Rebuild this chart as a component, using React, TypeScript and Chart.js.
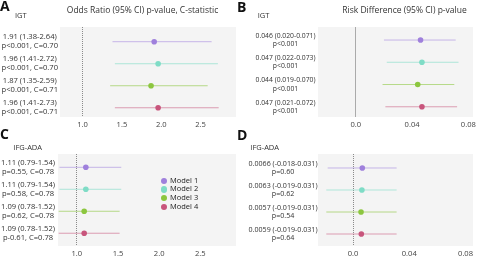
import React, { useEffect, useRef } from 'react';
import { Chart, registerables } from 'chart.js';
Chart.register(...registerables);

const models = ['Model 1', 'Model 2', 'Model 3', 'Model 4'];

const igtOrEst = [1.91, 1.96, 1.87, 1.96];
const igtOrLo = [1.38, 1.41, 1.35, 1.41];
const igtOrHi = [2.64, 2.72, 2.59, 2.73];
const igtOrStat = ['p<0.001, C=0.70', 'p<0.001, C=0.70', 'p<0.001, C=0.71', 'p<0.001, C=0.71'];

const igtRdEst = [0.046, 0.047, 0.044, 0.047];
const igtRdLo = [0.020, 0.022, 0.019, 0.021];
const igtRdHi = [0.071, 0.073, 0.070, 0.072];
const igtRdStat = ['p<0.001', 'p<0.001', 'p<0.001', 'p<0.001'];

const ifgOrEst = [1.11, 1.11, 1.09, 1.09];
const ifgOrLo = [0.79, 0.79, 0.78, 0.78];
const ifgOrHi = [1.54, 1.54, 1.52, 1.52];
const ifgOrStat = ['p=0.55, C=0.78', 'p=0.58, C=0.78', 'p=0.62, C=0.78', 'p-0.61, C=0.78'];

const ifgRdEst = [0.0066, 0.0063, 0.0057, 0.0059];
const ifgRdLo = [-0.018, -0.019, -0.019, -0.019];
const ifgRdHi = [0.031, 0.031, 0.031, 0.031];
const ifgRdStat = ['p=0.60', 'p=0.62', 'p=0.54', 'p=0.64'];

const orTicks = [1.0, 1.5, 2.0, 2.5];
const rdTicks = [0, 0.04, 0.08];

const pointColors = ['#9f80dc', '#7fdcc6', '#8cc63f', '#c8557c'];
const lineColors = ['rgba(159,128,220,0.55)', 'rgba(127,220,198,0.6)', 'rgba(140,198,63,0.6)', 'rgba(200,85,124,0.55)'];
const FONT = "'Open Sans', sans-serif";

const bgPlugin = {
  id: 'plotBg',
  beforeDraw(chart: any) {
    const { ctx, chartArea: a } = chart;
    ctx.save();
    ctx.fillStyle = '#f4f4f4';
    ctx.fillRect(a.left, a.top, a.right - a.left, a.bottom - a.top);
    ctx.restore();
  },
};

type PanelProps = {
  left: number; top: number; width: number; height: number;
  est: number[]; lo: number[]; hi: number[]; stat: string[];
  d1: number; d2: number;
  ticks: number[]; fmt: (v: number) => string; refValue: number;
  xmin: number; xmax: number; ymin: number; ymax: number;
  yWidth: number; padTop: number; padRight: number; dashed: boolean; labelPad: number; refColor: string;
  labelSize: number;
};

function Panel(p: PanelProps) {
  const ref = useRef<HTMLCanvasElement>(null);
  useEffect(() => {
    const labels = p.est.map((e, i) => [
      `${e.toFixed(p.d1)} (${p.lo[i].toFixed(p.d2)}-${p.hi[i].toFixed(p.d2)})`,
      p.stat[i],
    ]);
    const rows = p.est.map((_, i) => i + 1);
    const chart = new Chart(ref.current as HTMLCanvasElement, {
      type: 'scatter',
      data: {
        datasets: [
          {
            data: p.est.map((e, i) => ({ x: e, y: rows[i] })),
            pointBackgroundColor: pointColors,
            pointBorderWidth: 0,
            pointRadius: 2.8,
            showLine: false,
          } as any,
          ...p.est.map((_, i) => ({
            data: [{ x: p.lo[i], y: rows[i] }, { x: p.hi[i], y: rows[i] }],
            showLine: true,
            borderColor: lineColors[i],
            borderWidth: 1,
            pointRadius: 0,
          })),
        ],
      },
      options: {
        animation: false,
        responsive: false,
        maintainAspectRatio: false,
        events: [],
        layout: { padding: { top: p.padTop, right: p.padRight, left: 0, bottom: 0 } },
        plugins: { legend: { display: false }, tooltip: { enabled: false } },
        scales: {
          x: {
            type: 'linear',
            min: p.xmin,
            max: p.xmax,
            afterBuildTicks: (s: any) => { s.ticks = p.ticks.map((v) => ({ value: v })); },
            afterFit: (s: any) => { s.height = 13; s.paddingLeft = 0; s.paddingRight = 0; },
            grid: {
              drawTicks: false,
              color: (c: any) => (c.tick && Math.abs(c.tick.value - p.refValue) < 1e-9 ? p.refColor : 'rgba(0,0,0,0)'),
              lineWidth: 1,
            },
            border: { display: false, dash: p.dashed ? [1, 1] : [] },
            ticks: {
              font: { family: FONT, size: 7.6 },
              color: '#444',
              padding: 3,
              maxRotation: 0,
              autoSkip: false,
              callback: (v: any) => p.fmt(Number(v)),
            },
          },
          y: {
            type: 'linear',
            reverse: true,
            min: p.ymin,
            max: p.ymax,
            afterBuildTicks: (s: any) => { s.ticks = rows.map((v) => ({ value: v })); },
            afterFit: (s: any) => { s.width = p.yWidth; s.paddingTop = 0; s.paddingBottom = 0; },
            grid: { display: false, drawTicks: false },
            border: { display: false },
            ticks: {
              font: { family: FONT, size: p.labelSize, lineHeight: 1.2 },
              color: '#333',
              crossAlign: 'center',
              padding: p.labelPad,
              autoSkip: false,
              callback: (_v: any, i: number) => labels[i],
            },
          },
        },
      } as any,
      plugins: [bgPlugin],
    });
    return () => chart.destroy();
  }, []);
  return (
    <canvas
      ref={ref}
      width={p.width}
      height={p.height}
      style={{ position: 'absolute', left: p.left, top: p.top, width: p.width, height: p.height }}
    />
  );
}

function Txt(props: { x: number; y: number; size: number; children: any; center?: boolean; bold?: boolean; color?: string }) {
  return (
    <div
      style={{
        position: 'absolute',
        left: props.x,
        top: props.y,
        fontFamily: FONT,
        fontSize: props.size,
        lineHeight: '1',
        fontWeight: props.bold ? 700 : 400,
        color: props.color || '#333',
        whiteSpace: 'nowrap',
        transform: props.center ? 'translateX(-50%)' : undefined,
      }}
    >
      {props.children}
    </div>
  );
}

const orFmt = (v: number) => v.toFixed(1);
const rdFmt = (v: number) => (v === 0 ? '0.0' : v.toFixed(2));

export default function App() {
  const legendRows = [181, 189.6, 198.2, 206.8];
  return (
    <div style={{ position: 'absolute', left: 0, top: 0, width: 477, height: 259, background: '#fff', overflow: 'hidden' }}>
      <Panel left={0} top={0} width={240} height={130}
        est={igtOrEst} lo={igtOrLo} hi={igtOrHi} stat={igtOrStat} d1={2} d2={2}
        ticks={orTicks} fmt={orFmt} refValue={1}
        xmin={0.7125} xmax={2.95} ymin={0.332} ymax={4.42}
        yWidth={60} padTop={27} padRight={1} dashed={true} labelPad={2} refColor="#8a8a8a" labelSize={7.6} />
      <Panel left={240} top={0} width={237} height={130}
        est={igtRdEst} lo={igtRdLo} hi={igtRdHi} stat={igtRdStat} d1={3} d2={3}
        ticks={rdTicks} fmt={rdFmt} refValue={0}
        xmin={-0.0269} xmax={0.0833} ymin={0.414} ymax={4.46}
        yWidth={78} padTop={27} padRight={2} dashed={false} labelPad={2.5} refColor="#aaaaaa" labelSize={6.8} />
      <Panel left={0} top={130} width={240} height={129}
        est={ifgOrEst} lo={ifgOrLo} hi={ifgOrHi} stat={ifgOrStat} d1={2} d2={2}
        ticks={orTicks} fmt={orFmt} refValue={1}
        xmin={0.772} xmax={2.933} ymin={0.395} ymax={4.58}
        yWidth={58} padTop={24} padRight={2} dashed={true} labelPad={3} refColor="#8a8a8a" labelSize={7.6} />
      <Panel left={240} top={130} width={237} height={129}
        est={ifgRdEst} lo={ifgRdLo} hi={ifgRdHi} stat={ifgRdStat} d1={4} d2={3}
        ticks={rdTicks} fmt={rdFmt} refValue={0}
        xmin={-0.0249} xmax={0.0853} ymin={0.364} ymax={4.545}
        yWidth={78} padTop={24} padRight={2} dashed={true} labelPad={0.5} refColor="#8a8a8a" labelSize={7.1} />

      <Txt x={0} y={-0.7} size={14} bold color="#111">A</Txt>
      <Txt x={237} y={-0.2} size={14} bold color="#111">B</Txt>
      <Txt x={0} y={126.6} size={14} bold color="#111">C</Txt>
      <Txt x={237} y={127.8} size={14} bold color="#111">D</Txt>

      <Txt x={142.5} y={5.9} size={8.5} center>Odds Ratio (95% CI) p-value, C-statistic</Txt>
      <Txt x={404.5} y={5.9} size={8.5} center>Risk Difference (95% CI) p-value</Txt>

      <Txt x={15} y={12.3} size={7.5}>IGT</Txt>
      <Txt x={257.7} y={12.3} size={7.5}>IGT</Txt>
      <Txt x={13.3} y={143.7} size={7.5}>IFG-ADA</Txt>
      <Txt x={250.3} y={144} size={7.5}>IFG-ADA</Txt>

      {models.map((m, i) => (
        <React.Fragment key={m}>
          <div style={{ position: 'absolute', left: 164 - 3.3, top: legendRows[i] - 3.3, width: 6.6, height: 6.6, borderRadius: '50%', background: pointColors[i] }} />
          <Txt x={170} y={legendRows[i] - 4.3} size={7.5} color="#222">{m}</Txt>
        </React.Fragment>
      ))}
    </div>
  );
}
